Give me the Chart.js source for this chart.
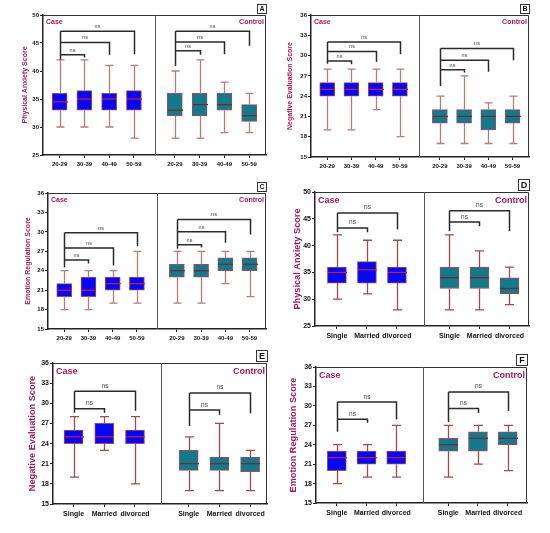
<!DOCTYPE html>
<html>
<head>
<meta charset="utf-8">
<script src="https://cdn.jsdelivr.net/npm/chart.js@4.4.1/dist/chart.umd.min.js"></script>
<style>
  body { margin: 0; background: #fff; width: 550px; height: 533px; position: relative; overflow: hidden; }
  canvas { position: absolute; }
</style>
</head>
<body>
<canvas id="pA"></canvas>
<canvas id="pB"></canvas>
<canvas id="pC"></canvas>
<canvas id="pD"></canvas>
<canvas id="pE"></canvas>
<canvas id="pF"></canvas>
<script>
// categorias
const ageGroups = ['20-29', '30-39', '40-49', '50-59'];
const maritalGroups = ['Single', 'Married', 'divorced'];

// A - Physical Anxiety por edad (case x4, control x4)
const aMin = [30, 30, 30, 28, 28, 28, 29, 29];
const aQ1  = [33, 33, 33, 33, 32, 32, 33, 31];
const aMed = [34.5, 35, 35, 35, 33, 34, 34, 32];
const aQ3  = [36, 36.5, 36, 36.5, 36, 36, 36, 34];
const aMax = [42, 42, 41, 41, 40, 42, 38, 36];
const aBrLevel = [42.9, 45.1, 47.1, 43.6, 45.2, 47.1];
const aBrEnd   = [42.4, 42.9, 43, 42.9, 43, 44.5];
const aBrStart = [42, 40.9];

// B - Negative Evaluation por edad
const bMin = [19, 19, 22, 18, 17, 17, 17, 17];
const bQ1  = [24, 24, 24, 24, 20, 20, 19, 20];
const bMed = [25, 25, 25, 25, 21, 21, 21, 21];
const bQ3  = [26, 26, 26, 26, 22, 22, 22, 22];
const bMax = [28, 28, 28, 28, 24, 27, 23, 24];
const bBrLevel = [29.2, 30.6, 32.0, 27.9, 29.3, 31.05];
const bBrEnd   = [28.7, 29.1, 30.2, 27.5, 27.6, 29.3];
const bBrStart = [28.8, 25.5];

// C - Emotion Regulation por edad
const cMin = [18, 18, 19, 19, 19, 19, 22, 20];
const cQ1  = [20, 20, 21, 21, 23, 23, 24, 24];
const cMed = [21, 21, 22, 22, 24, 24, 25, 25];
const cQ3  = [22, 23, 23, 23, 25, 25, 26, 26];
const cMax = [24, 24, 24, 27, 27, 27, 27, 27];
const cBrLevel = [25.65, 27.5, 29.85, 28.0, 30.0, 31.9];
const cBrEnd   = [25.1, 24.8, 27.8, 27.6, 28.3, 29.6];
const cBrStart = [24.5, 27.4];

// D - Physical Anxiety por estado civil (case x3, control x3)
const dMin = [30, 31, 28, 28, 28, 29];
const dQ1  = [33, 33, 33, 32, 32, 31];
const dMed = [35, 35.5, 35, 34, 34, 32];
const dQ3  = [36, 37, 36, 36, 36, 34];
const dMax = [42, 41, 41, 42, 39, 36];
const dBrLevel = [43.3, 46.1, 44.4, 46.5];
const dBrEnd   = [42.5, 43, 43.6, 42.7];
const dBrStart = [42.5, 42.7];

// E - Negative Evaluation por estado civil
const eMin = [19, 23, 18, 17, 17, 17];
const eQ1  = [24, 24, 24, 20, 20, 19.8];
const eMed = [25, 25, 25, 21, 21, 21];
const eQ3  = [26, 27, 26, 23, 22, 22];
const eMax = [28, 28, 28, 25, 27, 23];
const eBrLevel = [29.2, 31.8, 29.0, 31.55];
const eBrEnd   = [28.6, 28.9, 28.3, 28.5];
const eBrStart = [28.6, 26.6];

// F - Emotion Regulation por estado civil
const fMin = [18, 19, 19, 19, 21, 20];
const fQ1  = [20, 21, 21, 23, 23, 24];
const fMed = [22, 22, 22, 24, 25, 25];
const fQ3  = [23, 23, 23, 25, 26, 26];
const fMax = [24, 24, 27, 27, 27, 27];
const fBrLevel = [27.95, 30.6, 29.6, 32.15];
const fBrEnd   = [27.4, 27.9, 28.9, 29.2];
const fBrStart = [26, 27.5];

const FONT = 'Arial, "Liberation Sans", sans-serif';
const MAGENTA = '#a3195b';

// posiciones en el eje x (layout)
const agePos = [1, 2, 3, 4, 5.65, 6.65, 7.65, 8.65];
const marPos = [1, 2, 3, 4.75, 5.75, 6.75];

const small = { tick: 6, xlab: 6, title: 7, tag: 7, ns: 5.5, letter: 7, barW: 15, capW: 8, whisker: '#b97a7a' };
const big   = { tick: 7, xlab: 7, title: 9.2, tag: 9, ns: 6.5, letter: 9, barW: 19, capW: 9, whisker: '#a4484a' };

const panels = [
  { letter: 'A', canvas: [0, 0, 275, 172], area: [43, 15, 266, 155], titleX: 25, title: 'Physical Anxiety Score',
    labels: ageGroups, pos: agePos, xMin: 0.33, xMax: 9.33, divider: 4.83, yMin: 25, yMax: 50, step: 5,
    min: aMin, q1: aQ1, med: aMed, q3: aQ3, max: aMax, brLevel: aBrLevel, brEnd: aBrEnd, brStart: aBrStart, st: small },
  { letter: 'B', canvas: [275, 0, 275, 172], area: [311, 15, 529, 157], titleX: 290, title: 'Negative Evaluation Score',
    labels: ageGroups, pos: agePos, xMin: 0.33, xMax: 9.33, divider: 4.8, yMin: 15, yMax: 36, step: 3,
    min: bMin, q1: bQ1, med: bMed, q3: bQ3, max: bMax, brLevel: bBrLevel, brEnd: bBrEnd, brStart: bBrStart, st: small },
  { letter: 'C', canvas: [0, 172, 275, 176], area: [48, 193, 266, 329], titleX: 28, title: 'Emotion Regulation Score',
    labels: ageGroups, pos: agePos, xMin: 0.33, xMax: 9.33, divider: 4.83, yMin: 15, yMax: 36, step: 3,
    min: cMin, q1: cQ1, med: cMed, q3: cQ3, max: cMax, brLevel: cBrLevel, brEnd: cBrEnd, brStart: cBrStart, st: small },
  { letter: 'D', canvas: [275, 172, 275, 176], area: [315, 192, 529, 326], titleX: 297, title: 'Physical Anxiety Score',
    labels: maritalGroups, pos: marPos, xMin: 0.27, xMax: 7.4, divider: 3.9, yMin: 25, yMax: 50, step: 5,
    min: dMin, q1: dQ1, med: dMed, q3: dQ3, max: dMax, brLevel: dBrLevel, brEnd: dBrEnd, brStart: dBrStart, st: big },
  { letter: 'E', canvas: [0, 348, 275, 185], area: [53, 363, 267, 504], titleX: 32, title: 'Negative Evaluation Score',
    labels: maritalGroups, pos: marPos, xMin: 0.33, xMax: 7.3, divider: 3.86, yMin: 15, yMax: 36, step: 3,
    min: eMin, q1: eQ1, med: eMed, q3: eQ3, max: eMax, brLevel: eBrLevel, brEnd: eBrEnd, brStart: eBrStart, st: big },
  { letter: 'F', canvas: [275, 348, 275, 185], area: [316, 367, 527, 503], titleX: 293, title: 'Emotion Regulation Score',
    labels: maritalGroups, pos: marPos, xMin: 0.3, xMax: 7.4, divider: 3.9, yMin: 15, yMax: 36, step: 3,
    min: fMin, q1: fQ1, med: fMed, q3: fQ3, max: fMax, brLevel: fBrLevel, brEnd: fBrEnd, brStart: fBrStart, st: big }
];

const panelInfo = {};

// bigotes, medianas, corchetes "ns" y textos
const boxPlugin = {
  id: 'boxPlugin',
  afterDatasetsDraw(chart) {
    const p = panelInfo[chart.canvas.id];
    const st = p.st;
    const ctx = chart.ctx, x = chart.scales.x, y = chart.scales.y, a = chart.chartArea;
    const nCase = p.labels.length;
    const px = v => Math.round(x.getPixelForValue(v)) + 0.5;
    const py = v => y.getPixelForValue(v);
    ctx.save();

    // marco superior y derecho
    ctx.strokeStyle = '#333';
    ctx.lineWidth = 1;
    ctx.beginPath();
    ctx.moveTo(a.left, a.top + 0.5);
    ctx.lineTo(a.right - 0.5, a.top + 0.5);
    ctx.lineTo(a.right - 0.5, a.bottom);
    ctx.stroke();

    // separador case / control
    const dx = px(p.divider);
    ctx.strokeStyle = '#555';
    ctx.beginPath();
    ctx.moveTo(dx, a.top);
    ctx.lineTo(dx, a.bottom);
    ctx.stroke();

    // bigotes y medianas
    p.pos.forEach((v, i) => {
      const cx = px(v);
      ctx.strokeStyle = st.whisker;
      ctx.lineWidth = 1.3;
      ctx.beginPath();
      ctx.moveTo(cx, py(p.max[i]));
      ctx.lineTo(cx, py(p.q3[i]));
      ctx.moveTo(cx, py(p.q1[i]));
      ctx.lineTo(cx, py(p.min[i]));
      ctx.moveTo(cx - st.capW / 2, py(p.max[i]));
      ctx.lineTo(cx + st.capW / 2, py(p.max[i]));
      ctx.moveTo(cx - st.capW / 2, py(p.min[i]));
      ctx.lineTo(cx + st.capW / 2, py(p.min[i]));
      ctx.stroke();

      ctx.strokeStyle = i < nCase ? '#c8203c' : '#6e2a30';
      ctx.lineWidth = 1.2;
      ctx.beginPath();
      ctx.moveTo(cx - st.barW / 2, py(p.med[i]));
      ctx.lineTo(cx + st.barW / 2, py(p.med[i]));
      ctx.stroke();
    });

    // corchetes de comparacion
    const nb = nCase - 1;
    for (let g = 0; g < 2; g++) {
      const lx = px(p.pos[g * nCase]);
      const levels = p.brLevel.slice(g * nb, (g + 1) * nb);
      const ends = p.brEnd.slice(g * nb, (g + 1) * nb);
      const top = Math.max(...levels);
      ctx.strokeStyle = '#2a2a2a';
      ctx.lineWidth = 1.5;
      ctx.beginPath();
      ctx.moveTo(lx, py(p.brStart[g]));
      ctx.lineTo(lx, py(top));
      levels.forEach((lv, k) => {
        const tx = px(p.pos[g * nCase + k + 1]);
        ctx.moveTo(lx, py(lv));
        ctx.lineTo(tx, py(lv));
        ctx.lineTo(tx, py(ends[k]));
      });
      ctx.stroke();

      ctx.fillStyle = '#444';
      ctx.font = st.ns + 'px ' + FONT;
      ctx.textAlign = 'center';
      ctx.textBaseline = 'bottom';
      levels.forEach((lv, k) => {
        const tx = px(p.pos[g * nCase + k + 1]);
        ctx.fillText('ns', (lx + tx) / 2, py(lv) - 2);
      });
    }

    // etiquetas Case / Control
    ctx.fillStyle = MAGENTA;
    ctx.font = 'bold ' + st.tag + 'px ' + FONT;
    ctx.textBaseline = 'top';
    ctx.textAlign = 'left';
    ctx.fillText('Case', a.left + 3, a.top + 4);
    ctx.textAlign = 'right';
    ctx.fillText('Control', a.right - 2, a.top + 4);

    // letra del panel
    ctx.font = 'bold ' + st.letter + 'px ' + FONT;
    const w = st.letter + 2, h = st.letter + 2;
    const bx = Math.round(a.right - w) + 0.5, by = Math.round(a.top - h - 2) + 0.5;
    ctx.fillStyle = '#fff';
    ctx.fillRect(bx, by, w, h);
    ctx.strokeStyle = '#333';
    ctx.lineWidth = 1;
    ctx.strokeRect(bx, by, w, h);
    ctx.fillStyle = '#111';
    ctx.textAlign = 'center';
    ctx.textBaseline = 'middle';
    ctx.fillText(p.letter, bx + w / 2, by + h / 2 + 0.5);

    ctx.restore();
  }
};

function crearPanel(p) {
  const id = 'p' + p.letter;
  panelInfo[id] = p;
  const cv = document.getElementById(id);
  const [cl, ct, cw, ch] = p.canvas;
  const [al, at, ar, ab] = p.area;
  cv.width = cw;
  cv.height = ch;
  cv.style.left = cl + 'px';
  cv.style.top = ct + 'px';
  const st = p.st;
  const nCase = p.labels.length;
  const tickLabels = p.labels.concat(p.labels);

  new Chart(cv.getContext('2d'), {
    type: 'bar',
    data: {
      datasets: [{
        data: p.pos.map((v, i) => ({ x: v, y: [p.q1[i], p.q3[i]] })),
        backgroundColor: p.pos.map((v, i) => i < nCase ? '#0606f2' : '#13798b'),
        borderColor: '#a04a5c',
        borderWidth: 1,
        borderSkipped: false,
        barThickness: st.barW
      }]
    },
    options: {
      responsive: false,
      animation: false,
      devicePixelRatio: 1,
      layout: { padding: { top: at - ct, right: cl + cw - ar, left: 0, bottom: 0 } },
      plugins: { legend: { display: false }, tooltip: { enabled: false } },
      scales: {
        x: {
          type: 'linear',
          min: p.xMin,
          max: p.xMax,
          offset: false,
          grid: { display: true, drawOnChartArea: false, drawTicks: true, tickLength: 3, color: '#222', offset: false },
          border: { display: true, color: '#222', width: 1.5 },
          ticks: {
            autoSkip: false, maxRotation: 0, padding: 3, color: '#111',
            font: { family: FONT, size: st.xlab, weight: 'bold' },
            callback: (v, i) => tickLabels[i]
          },
          afterBuildTicks: s => { s.ticks = p.pos.map(v => ({ value: v })); },
          afterFit: s => { s.height = ct + ch - ab; }
        },
        y: {
          min: p.yMin,
          max: p.yMax,
          grid: { display: true, drawOnChartArea: false, drawTicks: true, tickLength: 3, color: '#222' },
          border: { display: true, color: '#222', width: 1.5 },
          ticks: {
            stepSize: p.step, padding: 1, color: '#111',
            font: { family: FONT, size: st.tick, weight: 'bold' }
          },
          title: {
            display: true,
            text: p.title,
            color: MAGENTA,
            font: { family: FONT, size: st.title, weight: 'bold', lineHeight: 1.2 },
            padding: { top: p.titleX - cl - 0.6 * st.title, bottom: 0 }
          },
          afterFit: s => { s.width = al - cl; }
        }
      }
    },
    plugins: [boxPlugin]
  });
}

panels.forEach(crearPanel);
</script>
</body>
</html>
